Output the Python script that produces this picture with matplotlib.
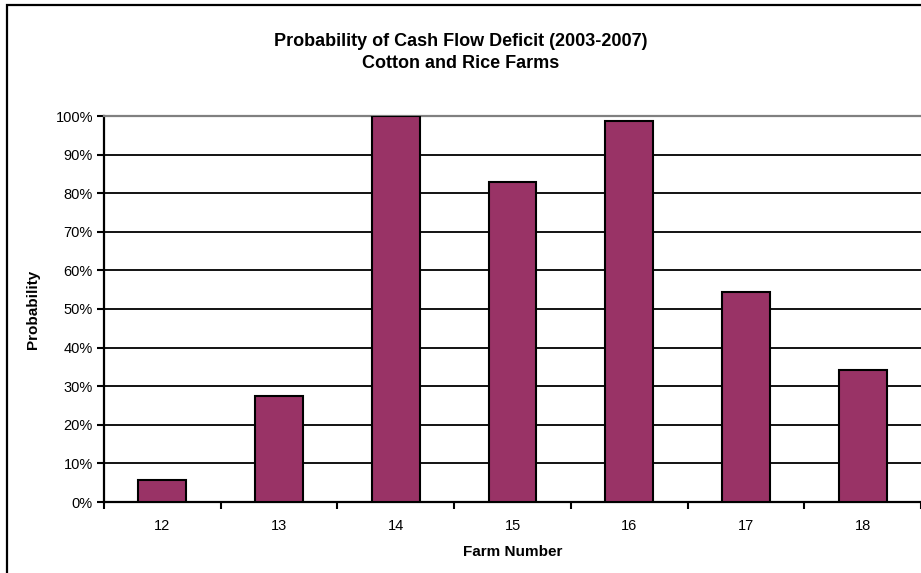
import numpy as np
import matplotlib.pyplot as plt
from matplotlib.patches import Rectangle
from matplotlib.ticker import FixedLocator, PercentFormatter

plt.rcParams['font.family'] = ['Liberation Sans', 'DejaVu Sans']

# probability of a cash flow deficit by farm
farms = ["12", "13", "14", "15", "16", "17", "18"]
prob = [0.058, 0.274, 1.00, 0.83, 0.988, 0.544, 0.342]

fig = plt.figure(figsize=(9.21, 5.73), dpi=100)

# chart area border (runs off the right and bottom edges)
fig.patches.append(Rectangle((7 / 921, -0.1), 1.2, 1 - 5 / 573 + 0.1,
                             transform=fig.transFigure, fill=False,
                             edgecolor="black", linewidth=1.6))

ax = fig.add_axes([104 / 921, 1 - 502 / 573, 817 / 921, 386 / 573])
x = np.arange(len(farms))
ax.bar(x, prob, width=0.41, color="#993366", edgecolor="black",
       linewidth=1.5, zorder=3)

ax.set_xlim(-0.5, len(farms) - 0.5)
ax.set_ylim(0, 1.0)
ax.set_yticks(np.arange(0, 1.01, 0.1))
ax.yaxis.set_major_formatter(PercentFormatter(1.0, decimals=0))
ax.set_xticks(x)
ax.set_xticklabels(farms)
ax.xaxis.set_minor_locator(FixedLocator(np.arange(-0.5, len(farms), 1.0)))
ax.tick_params(axis="x", which="major", length=0, pad=12, labelsize=10.5)
ax.tick_params(axis="x", which="minor", length=5, width=1.5, direction="out")
ax.tick_params(axis="y", length=5, width=1.5, direction="out", pad=3,
               labelsize=10.5)

ax.grid(axis="y", color="black", linewidth=1.3, zorder=1)
for s in ["left", "bottom"]:
    ax.spines[s].set_linewidth(1.6)
ax.spines["top"].set_color("#808080")
ax.spines["top"].set_linewidth(1.6)
ax.spines["right"].set_visible(False)

ax.set_xlabel("Farm Number", fontsize=11, fontweight="bold", labelpad=9)
ax.set_ylabel("Probability", fontsize=11, fontweight="bold", labelpad=11)

fig.text(0.5, 1 - 41 / 573, "Probability of Cash Flow Deficit (2003-2007)",
         ha="center", va="center", fontsize=13, fontweight="bold")
fig.text(0.5, 1 - 63 / 573, "Cotton and Rice Farms",
         ha="center", va="center", fontsize=13, fontweight="bold")

fig.savefig("out.png", dpi=100)
